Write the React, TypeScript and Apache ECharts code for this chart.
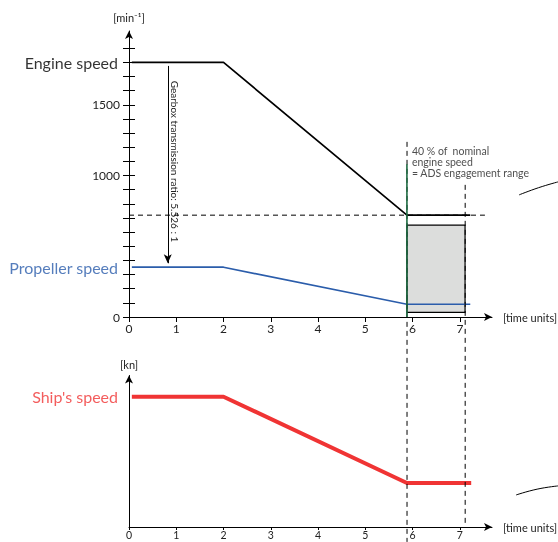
import React, { useEffect, useRef } from "react";
import * as echarts from "echarts";

// ---- data ----
const timeTicks = [0, 1, 2, 3, 4, 5, 6, 7];
const rpmTicks = [0, 100, 200, 300, 400, 500, 600, 700, 800, 900, 1000, 1100, 1200, 1300, 1400, 1500, 1600, 1700, 1800, 1900];
const rpmLabels = [0, 1000, 1500];
const engineSpeed = [[0.06, 1800], [2, 1800], [5.88, 720], [7.22, 720]];
const propellerSpeed = [[0.06, 352], [2, 352], [5.88, 90], [7.22, 90]];
const shipSpeed = [[0.06, 86], [2, 86], [5.88, 29], [7.24, 29]];
const adsThreshold = [[0, 720], [7.53, 720]];
const adsBox = [[5.88, 33], [7.11, 649]];
const adsMarker = [[5.88, 1080], [5.88, 0]];
const gearboxArrow = [[0.82, 1775], [0.82, 380]];
const adsStartGuide = [[5.88, 1238], [5.88, -1591]];
const adsEndGuide = [[7.11, 934], [7.11, -1457]];
const breakTop = [[8.25, 863], [8.663, 914], [9.075, 955]];
const breakBottom = [[8.187, -1259], [8.631, -1218], [9.075, -1195]];
const engineLabelPoint = [[0, 1800]];
const propellerLabelPoint = [[0, 352]];
const shipLabelPoint = [[0, 86]];
const annotationPoint = [[5.88, 1093]];
const annotationText = "40 % of  nominal\nengine speed\n= ADS engagement range";
const gearboxText = "Gearbox transmission ratio: 5.526 : 1";

const FONT = "Lato";
const BLUE = "#2b5dab";
const RED = "#f03434";
const GREEN = "#1e6c42";

export default function App() {
  const ref = useRef<HTMLDivElement>(null);
  useEffect(() => {
    const chart = echarts.init(ref.current!, null, { renderer: "svg" });
    const axisArrow = { show: true, symbol: ["none", "arrow"], symbolSize: [6, 8], lineStyle: { color: "#000", width: 1 } };
    const xAxisBase = {
      type: "value",
      min: 0,
      max: 7.68,
      axisLine: axisArrow,
      splitLine: { show: false },
      axisTick: { show: true, customValues: timeTicks, length: 5, lineStyle: { color: "#000" } },
      axisLabel: { customValues: timeTicks, color: "#222", fontFamily: FONT, fontSize: 12, margin: 5, formatter: (v: number) => String(v) },
      name: "[time units]",
      nameLocation: "end",
      nameGap: 11,
      nameTextStyle: { color: "#222", fontFamily: FONT, fontSize: 11 },
    };
    const hidden = { show: false };
    const textLabel = (text: string, color: string, size: number) => ({
      show: true,
      position: "left",
      distance: 11,
      formatter: text,
      color,
      fontFamily: FONT,
      fontSize: size,
    });
    chart.setOption({
      animation: false,
      grid: [
        { left: 129, top: 31, width: 363, height: 286, outerBoundsMode: "none", containLabel: false },
        { left: 129, top: 375.5, width: 363, height: 151.5, outerBoundsMode: "none", containLabel: false },
        { left: 129, top: 31, width: 429, height: 511, outerBoundsMode: "none", containLabel: false },
      ],
      xAxis: [
        { ...xAxisBase, gridIndex: 0 },
        {
          ...xAxisBase, gridIndex: 1,
          axisTick: { show: true, customValues: timeTicks, length: 3, lineStyle: { color: "#000" } },
          axisLabel: { customValues: timeTicks, color: "#222", fontFamily: FONT, fontSize: 10.5, margin: 2, formatter: (v: number) => String(v) },
        },
        { type: "value", gridIndex: 2, min: 0, max: 9.073, ...hidden },
      ],
      yAxis: [
        {
          type: "value", gridIndex: 0, min: 0, max: 2022, position: "left",
          axisLine: axisArrow,
          splitLine: { show: false },
          axisTick: { show: true, customValues: rpmTicks, length: 6, lineStyle: { color: "#000" } },
          axisLabel: { customValues: rpmLabels, color: "#222", fontFamily: FONT, fontSize: 12, margin: 9, formatter: (v: number) => String(v) },
          name: "[min⁻¹]", nameLocation: "end", nameGap: 8,
          nameTextStyle: { color: "#222", fontFamily: FONT, fontSize: 11 },
        },
        {
          type: "value", gridIndex: 0, min: 0, max: 2022, position: "left",
          axisLine: { show: false }, splitLine: { show: false },
          axisTick: { show: true, inside: true, customValues: rpmTicks, length: 6, lineStyle: { color: "#000" } },
          axisLabel: { show: false },
        },
        {
          type: "value", gridIndex: 1, min: 0, max: 100, position: "left",
          axisLine: axisArrow, splitLine: { show: false },
          axisTick: { show: false }, axisLabel: { show: false },
          name: "[kn]", nameLocation: "end", nameGap: 6,
          nameTextStyle: { color: "#222", fontFamily: FONT, fontSize: 11 },
        },
        { type: "value", gridIndex: 2, min: -1591.6, max: 2022, ...hidden },
      ],
      series: [
        {
          type: "line", xAxisIndex: 0, yAxisIndex: 0, data: adsThreshold, symbol: "none",
          lineStyle: { color: "#000", width: 1, type: [5, 4] }, z: 2,
          markArea: {
            silent: true,
            itemStyle: { color: "#dcdddc", borderColor: "#000", borderWidth: 1.2 },
            data: [[{ coord: adsBox[0] }, { coord: adsBox[1] }]],
          },
        },
        {
          type: "line", xAxisIndex: 0, yAxisIndex: 0, data: engineSpeed, symbol: "none",
          lineStyle: { color: "#000", width: 1.7 }, z: 3,
          markLine: {
            silent: true, symbol: ["none", "arrow"], symbolSize: [6, 9],
            label: { show: false },
            lineStyle: { color: "#000", width: 1, type: "solid" },
            data: [[{ coord: gearboxArrow[0] }, { coord: gearboxArrow[1] }]],
          },
        },
        {
          type: "line", xAxisIndex: 0, yAxisIndex: 0, data: propellerSpeed, symbol: "none",
          lineStyle: { color: BLUE, width: 1.7 }, z: 4,
        },
        {
          type: "line", xAxisIndex: 1, yAxisIndex: 2, data: shipSpeed, symbol: "none",
          lineStyle: { color: RED, width: 4 }, z: 4,
        },
        {
          type: "line", xAxisIndex: 2, yAxisIndex: 3, data: adsStartGuide, symbol: "none", clip: false,
          lineStyle: { color: "#000", width: 1, type: [5, 4] }, z: 6,
        },
        {
          type: "line", xAxisIndex: 2, yAxisIndex: 3, data: adsEndGuide, symbol: "none", clip: false,
          lineStyle: { color: "#000", width: 1, type: [5, 4] }, z: 6,
        },
        {
          type: "line", xAxisIndex: 0, yAxisIndex: 0, data: adsMarker, symbol: "none",
          lineStyle: { color: GREEN, width: 1.6 }, z: 8,
        },
        {
          type: "line", xAxisIndex: 2, yAxisIndex: 3, data: breakTop, symbol: "none", smooth: true, clip: false,
          lineStyle: { color: "#000", width: 1 },
        },
        {
          type: "line", xAxisIndex: 2, yAxisIndex: 3, data: breakBottom, symbol: "none", smooth: true, clip: false,
          lineStyle: { color: "#000", width: 1 },
        },
        {
          type: "scatter", xAxisIndex: 0, yAxisIndex: 0, data: engineLabelPoint, symbolSize: 0, silent: true,
          label: textLabel("Engine speed", "#000", 16),
        },
        {
          type: "scatter", xAxisIndex: 0, yAxisIndex: 0, data: propellerLabelPoint, symbolSize: 0, silent: true,
          label: textLabel("Propeller speed", BLUE, 16),
        },
        {
          type: "scatter", xAxisIndex: 1, yAxisIndex: 2, data: shipLabelPoint, symbolSize: 0, silent: true,
          label: textLabel("Ship's speed", RED, 16),
        },
        {
          type: "scatter", xAxisIndex: 0, yAxisIndex: 0, data: annotationPoint, symbolSize: 0, silent: true,
          label: {
            show: true, position: "right", distance: 5, formatter: annotationText,
            color: "#222", fontFamily: FONT, fontSize: 10.5, lineHeight: 11, align: "left",
          },
        },
      ],
      graphic: [
        {
          type: "text", x: 175, y: 161.5, rotation: -Math.PI / 2,
          style: { text: gearboxText, fontFamily: FONT, fontSize: 10, fill: "#222", align: "center", verticalAlign: "middle" },
        },
      ],
    });
    return () => chart.dispose();
  }, []);
  return <div ref={ref} style={{ position: "fixed", left: 0, top: 0, width: 558, height: 542 }} />;
}
